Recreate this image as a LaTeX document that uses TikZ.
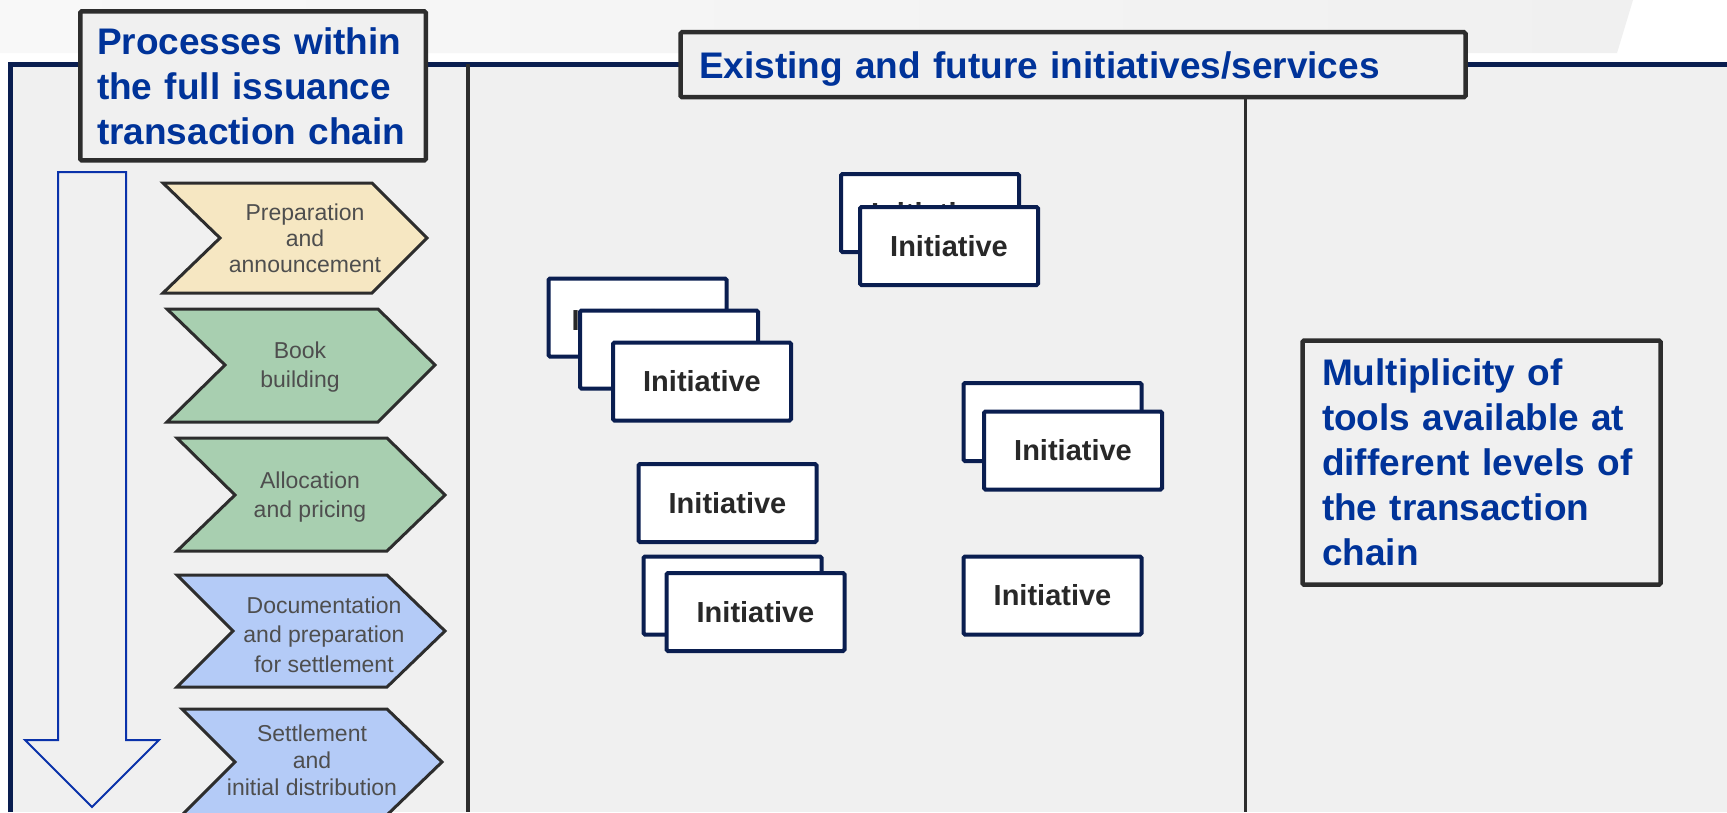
\documentclass[tikz,border=0pt]{standalone}
\usepackage{fontspec}
\setmainfont{Liberation Sans}
\definecolor{navy}{RGB}{10,30,80}
\definecolor{ttlblue}{RGB}{0,51,153}
\definecolor{panel}{RGB}{240,240,240}
\definecolor{boxline}{RGB}{45,45,45}
\definecolor{tanfill}{RGB}{246,231,194}
\definecolor{sagefill}{RGB}{168,207,176}
\definecolor{skyfill}{RGB}{180,203,247}
\definecolor{arrowblue}{RGB}{10,50,170}
\definecolor{chevtext}{RGB}{78,78,78}
\definecolor{inittext}{RGB}{40,40,40}
\begin{document}
\begin{tikzpicture}[x=1pt,y=-1pt,
  titlebox/.style={draw=boxline, line width=4.5pt, fill=panel, rounded corners=1.5pt, outer sep=0pt,
    text=ttlblue, font=\bfseries\fontsize{37}{45}\selectfont, align=left, anchor=north west},
  chev/.style={draw=boxline, line width=3pt, line join=miter},
  chevtxt/.style={text=chevtext, align=center, inner sep=0pt},
  initbox/.style={draw=navy, line width=4pt, fill=white, minimum width=178pt, minimum height=78pt,
    inner sep=0pt, rounded corners=1.5pt, text=inittext, font=\bfseries\fontsize{29}{29}\selectfont},
  divider/.style={draw=boxline, line width=3.5pt}]
\useasboundingbox (0,0) rectangle (1727,812);
\fill[white] (0,0) rectangle (1727,812);
\shade[left color={rgb,255:red,248;green,248;blue,248}, right color={rgb,255:red,240;green,240;blue,240}]
  (0,0) -- (1633,0) -- (1617,53) -- (0,53) -- cycle;
\fill[panel] (10,64) rectangle (1727,812);
\draw[navy, line width=4.5pt] (10.5,812) -- (10.5,64.5) -- (1727,64.5);
% dividers
\coordinate (d1) at (468,812);
\coordinate (d2) at (1245,812);
\draw[divider] (468,64) -- (d1);
% down arrow
\draw[arrowblue, line width=2pt, line join=miter]
  (58,172) -- (126,172) -- (126,740) -- (159,740) -- (92,807) -- (25,740) -- (58,740) -- cycle;
% chevrons
\draw[chev, fill=tanfill] (163,183) -- (372,183) -- (427,238) -- (372,293) -- (163,293) -- (220,238) -- cycle;
\draw[chev, fill=sagefill] (167,309) -- (378,309) -- (435,365) -- (378,422) -- (167,422) -- (225,365) -- cycle;
\draw[chev, fill=sagefill] (177,438) -- (387,438) -- (445,495) -- (387,551) -- (177,551) -- (235,495) -- cycle;
\draw[chev, fill=skyfill] (177,575) -- (387,575) -- (445,631) -- (387,687) -- (177,687) -- (233,631) -- cycle;
\draw[chev, fill=skyfill] (182,709) -- (387,709) -- (442,762) -- (387,815) -- (182,815) -- (235,762) -- cycle;
\node[chevtxt, font=\fontsize{23}{26}\selectfont] (t1) at (305,238) {Preparation\\and\\announcement};
\node[chevtxt, font=\fontsize{23}{29}\selectfont] (t2) at (300,366.7) {Book\\building};
\node[chevtxt, font=\fontsize{23}{29}\selectfont] (t3) at (310,496.8) {Allocation\\and pricing};
\node[chevtxt, font=\fontsize{23}{29.5}\selectfont] (t4) at (324,634.5) {Documentation\\and preparation\\for settlement};
\node[chevtxt, font=\fontsize{23}{27}\selectfont] (t5) at (312,760) {Settlement\\and\\initial distribution};
% title boxes
\node[titlebox, text width=312pt, inner xsep=16.75pt, inner ysep=16pt] (procbox) at (80.25,11.25)
  {Processes within\\the full issuance\\transaction chain};
\node[titlebox, text width=748pt, inner xsep=18.5pt, inner ysep=0pt, minimum height=65pt, text depth=0pt] (exbox) at (680.5,32.2)
  {Existing and future initiatives/services};
\draw[divider, line width=3pt] (exbox.south -| d2) -- (d2);
\node[titlebox, text width=319pt, inner xsep=19.5pt, inner ysep=18.5pt] (multbox) at (1302.5,340.5)
  {Multiplicity of\\tools available at\\different levels of\\the transaction\\chain};
% initiatives
\node[initbox] (a1) at (930,213) {Initiative};
\node[initbox] (a2) at (949,246) {Initiative};
\node[initbox] (b1) at (637.5,317.5) {\raisebox{-3pt}[\height][\depth]{Initiative}\hspace*{14pt}};
\node[initbox] (b2) at (669,349.5) {};
\node[initbox] (b3) at (702,381.5) {Initiative};
\node[initbox] (c1) at (727.5,503) {Initiative};
\node[initbox] (d1b) at (732.5,595.5) {};
\node[initbox] (d2b) at (755.5,612) {Initiative};
\node[initbox] (e1) at (1052.5,422) {};
\node[initbox] (e2) at (1073,450.5) {Initiative};
\node[initbox] (f1) at (1052.5,595.5) {Initiative};
\end{tikzpicture}
\end{document}
